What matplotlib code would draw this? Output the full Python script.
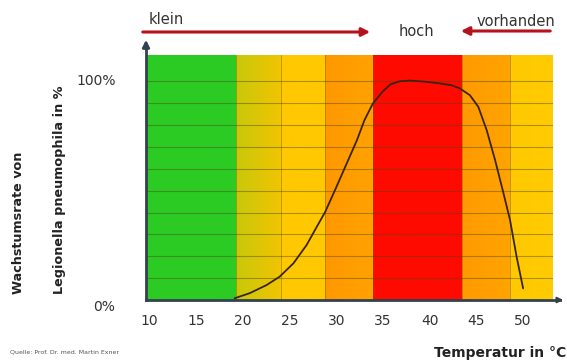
import matplotlib.pyplot as plt
from matplotlib.colors import LinearSegmentedColormap
import numpy as np

# colour bands along the temperature axis (°C)
band_edges = [9.6, 19.2, 24.1, 28.8, 33.9, 43.4, 48.6, 53.2]
band_colors = [
    ("#2ccb24", "#2ccb24"),
    ("#c8c80c", "#f2c400"),
    ("#ffc800", "#ffc800"),
    ("#ff9800", "#ffa200"),
    ("#ff0a00", "#ff0a00"),
    ("#ff9a00", "#ffa400"),
    ("#ffc800", "#ffcc00"),
]

# growth curve
curve_temp = [19.1, 20.7, 22.5, 23.9, 25.4, 26.8, 27.9, 28.8, 30.0, 31.1,
              32.2, 33.0, 33.9, 35.0, 35.8, 36.8, 37.9, 39.5, 41.1, 42.3,
              43.2, 44.3, 45.2, 46.1, 47.0, 47.9, 48.6, 49.3, 50.0]
curve_rate = [0.8, 3.1, 6.8, 10.6, 16.8, 25.1, 33.5, 40.3, 51.7, 62.4,
              73.1, 82.2, 89.8, 95.5, 98.6, 100.0, 100.3, 99.8, 99.0, 98.2,
              96.8, 93.6, 88.3, 77.6, 63.9, 48.7, 36.5, 19.8, 5.3]

x_ticks = [10, 15, 20, 25, 30, 35, 40, 45, 50]
y_lines = [10, 20, 30, 40, 50, 60, 70, 80, 90, 100]

W, H = 567, 363
fig = plt.figure(figsize=(W / 100, H / 100), dpi=100)


def px(x, y):
    # pixel position (from top-left) -> figure fraction
    return x / W, 1 - y / H


left, top = px(146, 55)
right, bottom = px(553, 300)
ax = fig.add_axes([left, bottom, right - left, top - bottom])
ax.set_xlim(band_edges[0], band_edges[-1])
ax.set_ylim(0, 112)

for i, (c0, c1) in enumerate(band_colors):
    cmap = LinearSegmentedColormap.from_list(f"b{i}", [c0, c1])
    ax.imshow(np.linspace(0, 1, 50).reshape(1, -1), cmap=cmap, aspect="auto",
              extent=[band_edges[i], band_edges[i + 1], 0, 112], zorder=0)
    if i > 0:
        ax.axvline(band_edges[i], color="#6a5a10", lw=0.6, alpha=0.5, zorder=1)

for yv in y_lines:
    ax.axhline(yv, color="#4a4a18", lw=0.8, alpha=0.45, zorder=1)

ax.plot(curve_temp, curve_rate, color="#3a2410", lw=1.3, zorder=3,
        solid_joinstyle="round", solid_capstyle="round")

for s in ax.spines.values():
    s.set_visible(False)
ax.set_xticks(x_ticks)
ax.set_xticklabels([str(t) for t in x_ticks], fontsize=10, color="#333333")
ax.tick_params(axis="x", length=0, pad=10)
ax.set_yticks([0, 100])
ax.set_yticklabels(["0%", "100%"], fontsize=10, color="#333333")
ax.tick_params(axis="y", length=0, pad=22)
for lbl in ax.get_yticklabels():
    lbl.set_va("top" if lbl.get_text() == "0%" else "center")

# axis arrows
axis_col = "#33414f"
fig.add_artist(plt.Line2D([146 / W] * 2, [1 - 300 / H, 1 - 45 / H],
                          transform=fig.transFigure, color=axis_col, lw=2))
ax.annotate("", xy=px(146, 37), xytext=px(146, 50), xycoords="figure fraction",
            arrowprops=dict(arrowstyle="-|>", color=axis_col, lw=2, mutation_scale=10))
fig.add_artist(plt.Line2D([146 / W, 560 / W], [1 - 300 / H] * 2,
                          transform=fig.transFigure, color=axis_col, lw=2))
ax.annotate("", xy=px(566, 300), xytext=px(556, 300), xycoords="figure fraction",
            arrowprops=dict(arrowstyle="-|>", color=axis_col, lw=1.5, mutation_scale=8))

# top labels with red arrows
red = "#b5121b"
ax.annotate("", xy=px(373, 32), xytext=px(140, 32), xycoords="figure fraction",
            arrowprops=dict(arrowstyle="-|>", color=red, lw=2.2, mutation_scale=12))
ax.annotate("", xy=px(458, 31), xytext=px(553, 31), xycoords="figure fraction",
            arrowprops=dict(arrowstyle="-|>", color=red, lw=2.2, mutation_scale=12))
fig.text(*px(149, 19), "klein", fontsize=10.5, color="#333333", va="center")
fig.text(*px(416, 32), "hoch", fontsize=10.5, color="#333333", va="center", ha="center")
fig.text(*px(555, 21), "vorhanden", fontsize=10.5, color="#333333", va="center", ha="right")

# axis titles
fig.text(*px(19, 294), "Wachstumsrate von", rotation=90, fontsize=9.2,
         fontweight="bold", color="#222222", ha="center", va="bottom")
fig.text(*px(59, 294), "Legionella pneumophila in %", rotation=90, fontsize=9.2,
         fontweight="bold", color="#222222", ha="center", va="bottom")
fig.text(*px(566, 353), "Temperatur in °C", fontsize=10, fontweight="bold",
         color="#222222", ha="right", va="center")
fig.text(*px(10, 352), "Quelle: Prof. Dr. med. Martin Exner", fontsize=4.5,
         color="#555555", ha="left", va="center")

fig.savefig("out.png", dpi=100)
